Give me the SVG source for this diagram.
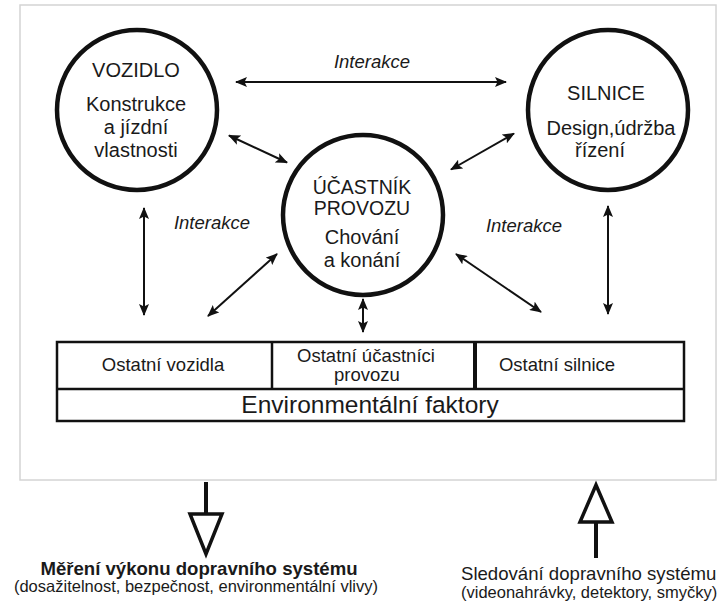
<svg xmlns="http://www.w3.org/2000/svg" width="725" height="604" viewBox="0 0 725 604">
<style>
text{font-family:"Liberation Sans",Arial,sans-serif;fill:#1a1a1a;text-anchor:middle}
.n{font-size:20px}
.t{font-size:19.5px}
.it{font-size:18.5px;font-style:italic}
.cell{font-size:18.5px}
.env{font-size:24.5px}
.node{fill:#fff;stroke:#111;stroke-width:4.5}
.con{stroke:#111;stroke-width:2;fill:none;marker-start:url(#ah);marker-end:url(#ah)}
.box{fill:#fff;stroke:#111;stroke-width:2.5}
.bold{font-size:18.6px;font-weight:bold}
.sub{font-size:16.5px}
</style>
<defs>
<marker id="ah" viewBox="0 0 12 10" refX="11" refY="5" markerWidth="12" markerHeight="10" markerUnits="userSpaceOnUse" orient="auto-start-reverse">
<path d="M0,0 L12,5 L0,10 L2.5,5 z" fill="#111"/>
</marker>
</defs>
<rect x="0" y="0" width="725" height="604" fill="#fff"/>
<rect id="frame" x="20" y="5" width="696" height="475" fill="#fff" stroke="#d4d4d4" stroke-width="1.5"/>

<g id="connectors">
<line class="con" x1="236" y1="82" x2="506" y2="82"/>
<line class="con" x1="229" y1="135.5" x2="287" y2="162.5"/>
<line class="con" x1="451" y1="169.5" x2="514" y2="133.5"/>
<line class="con" x1="144" y1="208" x2="144" y2="315"/>
<line class="con" x1="208" y1="316" x2="277" y2="254"/>
<line class="con" x1="456" y1="254" x2="541" y2="312"/>
<line class="con" x1="608" y1="206" x2="608" y2="314"/>
<line class="con" x1="363" y1="299" x2="363" y2="332"/>
<text class="it" x="372" y="68">Interakce</text>
<text class="it" x="212" y="229">Interakce</text>
<text class="it" x="524" y="232">Interakce</text>
</g>

<g id="vozidlo">
<circle class="node" cx="137" cy="110" r="80"/>
<text class="n" x="136" y="77">VOZIDLO</text>
<text class="n" x="136" y="111">Konstrukce</text>
<text class="n" x="136" y="134">a jízdní</text>
<text class="n" x="136" y="157">vlastnosti</text>
</g>

<g id="silnice">
<circle class="node" cx="608" cy="110" r="80"/>
<text class="n" x="606" y="100">SILNICE</text>
<text class="n" x="611" y="135">Design,údržba</text>
<text class="n" x="600" y="157">řízení</text>
</g>

<g id="ucastnik">
<circle class="node" cx="363" cy="215" r="80"/>
<text class="t" x="362" y="194">ÚČASTNÍK</text>
<text class="t" x="362" y="215">PROVOZU</text>
<text class="n" x="362" y="244">Chování</text>
<text class="n" x="362" y="267">a konání</text>
</g>

<g id="okoli">
<rect class="box" x="57" y="342" width="627" height="79"/>
<line x1="57" y1="389" x2="684" y2="389" stroke="#111" stroke-width="2.5"/>
<line x1="272" y1="342" x2="272" y2="389" stroke="#111" stroke-width="2.5"/>
<line x1="475" y1="342" x2="475" y2="389" stroke="#111" stroke-width="4"/>
<text class="cell" x="163" y="371">Ostatní vozidla</text>
<text class="cell" x="366" y="362">Ostatní účastníci</text>
<text class="cell" x="367" y="381">provozu</text>
<text class="cell" x="557" y="371">Ostatní silnice</text>
<text class="env" x="370" y="413">Environmentální faktory</text>
</g>

<g id="mereni">
<line x1="206" y1="482" x2="206" y2="514" stroke="#111" stroke-width="4"/>
<polygon points="190,514 222,514 206,554" fill="#fff" stroke="#111" stroke-width="3.5" stroke-linejoin="miter"/>
<text class="bold" x="199" y="575">Měření výkonu dopravního systému</text>
<text class="sub" x="196" y="592">(dosažitelnost, bezpečnost, environmentální vlivy)</text>
</g>

<g id="sledovani">
<polygon points="596,485 580,522 612,522" fill="#fff" stroke="#111" stroke-width="3.5" stroke-linejoin="miter"/>
<line x1="596" y1="522" x2="596" y2="558" stroke="#111" stroke-width="4"/>
<text x="461" y="580" style="font-size:18.6px;text-anchor:start">Sledování dopravního systému</text>
<text class="sub" x="461" y="598" style="text-anchor:start">(videonahrávky, detektory, smyčky)</text>
</g>
</svg>
